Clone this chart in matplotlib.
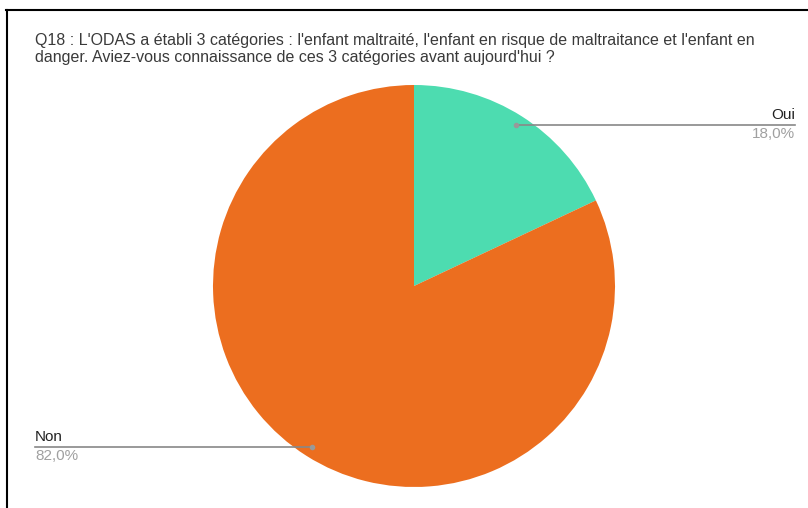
import numpy as np
import matplotlib
matplotlib.use("Agg")
import matplotlib.pyplot as plt

plt.rcParams["font.family"] = ["Liberation Sans", "DejaVu Sans"]

labels = ["Oui", "Non"]
values = [18.0, 82.0]
colors = ["#4ddcb0", "#ec6e1f"]
title = ("Q18 : L'ODAS a établi 3 catégories : l'enfant maltraité, l'enfant en risque de maltraitance et l'enfant en\n"
         "danger. Aviez-vous connaissance de ces 3 catégories avant aujourd'hui ?")

W, H = 808, 508
fig = plt.figure(figsize=(W / 100, H / 100), dpi=100)
ax = fig.add_axes([0, 0, 1, 1])

cx, cy, r = 414, H - 286, 201
wedges, _ = ax.pie(values, colors=colors, startangle=90, counterclock=False,
                   center=(cx, cy), radius=r, frame=True,
                   wedgeprops=dict(linewidth=0))
ax.set_xlim(0, W)
ax.set_ylim(0, H)
ax.set_aspect("equal")
ax.axis("off")

# border (top and left only)
ax.plot([6, W], [H - 10, H - 10], color="black", lw=1.5, clip_on=False)
ax.plot([6.5, 6.5], [0, H - 10], color="black", lw=1.5, clip_on=False)

ax.text(35, H - 33, title, fontsize=11.5, color="#3a3a3a", va="top", ha="left",
        linespacing=1.18)

for w, lab, val in zip(wedges, labels, values):
    ang = np.deg2rad((w.theta1 + w.theta2) / 2)
    px = cx + 0.95 * r * np.cos(ang)
    py = cy + 0.95 * r * np.sin(ang)
    if np.cos(ang) >= 0:
        xe, ha = 795, "right"
    else:
        xe, ha = 35, "left"
    ax.plot([px, xe], [py, py], color="#888888", lw=1.2)
    ax.plot([px], [py], "o", color="#999999", ms=3)
    ax.text(xe, py + 3, lab, fontsize=11, color="#222222", ha=ha, va="bottom")
    ax.text(xe, py - 2, f"{val:.1f}%".replace(".", ","), fontsize=11,
            color="#a0a0a0", ha=ha, va="top")

fig.savefig("out.png", dpi=100)
